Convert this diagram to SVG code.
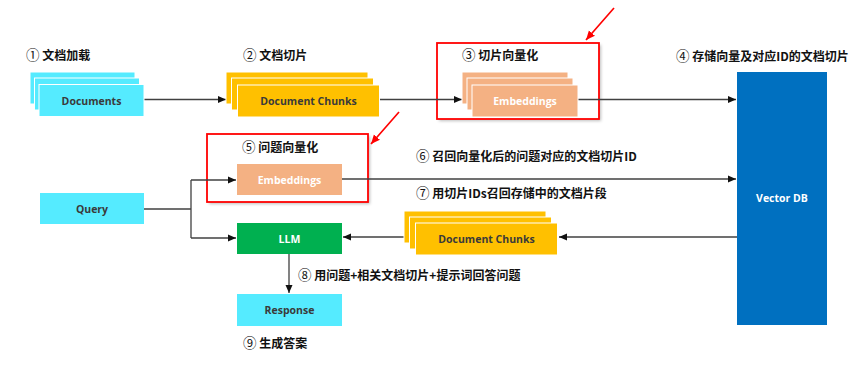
<svg xmlns="http://www.w3.org/2000/svg" width="865" height="366" viewBox="0 0 865 366">
<style>
  .lbl { font-family: "Noto Sans CJK SC", "Liberation Sans", sans-serif; font-weight: bold; font-size: 12px; fill: #111; }
  .num { font-size: 13.5px; font-weight: normal; }
  .bt { font-family: "Open Sans", "Noto Sans", "Liberation Sans", sans-serif; font-weight: bold; font-size: 10.5px; text-anchor: middle; dominant-baseline: central; }
  .dark { fill: #3a3a3a; }
  .light { fill: #ffffff; }
  .cyan { fill: #55EBFF; stroke: #ffffff; stroke-width: 1; }
  .orange { fill: #FFC000; stroke: #ffffff; stroke-width: 1; }
  .salmon { fill: #F4B183; stroke: #ffffff; stroke-width: 1; }
  .conn { fill: none; stroke: #404040; stroke-width: 1.3; }
  .red { fill: none; stroke: #FF0000; stroke-width: 1.6; }
  .redbox { fill: none; stroke: #FF0000; stroke-width: 1.8; }
</style>
<defs>
  <marker id="ah" markerUnits="userSpaceOnUse" markerWidth="9" markerHeight="8" refX="8" refY="4" orient="auto">
    <path d="M0,0.5 L8,4 L0,7.5 Z" fill="#111"/>
  </marker>
  <marker id="rah" markerUnits="userSpaceOnUse" markerWidth="10" markerHeight="10" refX="9" refY="5" orient="auto">
    <path d="M0,1 L9,5 L0,9 Z" fill="#FF0000"/>
  </marker>
  <filter id="sh" x="-5%" y="-5%" width="115%" height="120%">
    <feDropShadow dx="2" dy="2" stdDeviation="1.5" flood-color="#000" flood-opacity="0.25"/>
  </filter>
</defs>

<!-- red highlight boxes -->
<g id="highlight1">
  <rect x="437" y="43" width="162" height="76" fill="#fff" filter="url(#sh)"/>
  <rect class="redbox" x="437" y="43" width="162" height="76"/>
</g>
<g id="highlight2">
  <rect x="207" y="134" width="161" height="68" fill="#fff" filter="url(#sh)"/>
  <rect class="redbox" x="207" y="134" width="161" height="68"/>
</g>

<!-- connectors -->
<g id="connectors">
  <line class="conn" x1="144" y1="99.5" x2="226" y2="99.5" marker-end="url(#ah)"/>
  <line class="conn" x1="380" y1="99.5" x2="462" y2="99.5" marker-end="url(#ah)"/>
  <line class="conn" x1="578" y1="99.5" x2="736" y2="99.5" marker-end="url(#ah)"/>
  <polyline class="conn" points="144,209 191,209"/>
  <polyline class="conn" points="191,180 191,238"/>
  <line class="conn" x1="191" y1="180" x2="236" y2="180" marker-end="url(#ah)"/>
  <line class="conn" x1="191" y1="238" x2="236" y2="238" marker-end="url(#ah)"/>
  <line class="conn" x1="342" y1="179" x2="736" y2="179" marker-end="url(#ah)"/>
  <line class="conn" x1="737" y1="237" x2="559" y2="237" marker-end="url(#ah)"/>
  <line class="conn" x1="416" y1="237" x2="343" y2="237" marker-end="url(#ah)"/>
  <line class="conn" x1="289" y1="254" x2="289" y2="293" marker-end="url(#ah)"/>
  <line class="red" x1="614" y1="8" x2="586" y2="40" marker-end="url(#rah)"/>
  <line class="red" x1="399" y1="112" x2="371" y2="144" marker-end="url(#rah)"/>
</g>

<!-- nodes -->
<g id="documents">
  <rect class="cyan" x="30" y="72" width="105" height="32"/>
  <rect class="cyan" x="34.5" y="78" width="105" height="32"/>
  <rect class="cyan" x="39" y="84.5" width="105" height="32"/>
  <text class="bt dark" x="91.5" y="101">Documents</text>
</g>
<g id="chunks">
  <rect class="orange" x="226" y="72" width="142" height="32"/>
  <rect class="orange" x="231.5" y="78" width="142" height="32"/>
  <rect class="orange" x="237.5" y="85" width="142" height="32"/>
  <text class="bt dark" x="308.5" y="101">Document Chunks</text>
</g>
<g id="embeddings1">
  <rect class="salmon" x="462" y="72" width="106" height="32"/>
  <rect class="salmon" x="467" y="78" width="106" height="32"/>
  <rect class="salmon" x="472" y="85" width="106" height="32"/>
  <text class="bt light" x="525" y="101">Embeddings</text>
</g>
<g id="vectordb">
  <rect x="737" y="72" width="90" height="253" fill="#0070C0"/>
  <text class="bt light" x="782" y="198">Vector DB</text>
</g>
<g id="embeddings2">
  <rect x="237" y="164" width="105" height="31" fill="#F4B183"/>
  <text class="bt light" x="289.5" y="179.5">Embeddings</text>
</g>
<g id="query">
  <rect x="40" y="193" width="104" height="31" fill="#55EBFF"/>
  <text class="bt dark" x="92" y="208.5">Query</text>
</g>
<g id="llm">
  <rect x="237" y="223" width="105" height="31" fill="#00B050"/>
  <text class="bt light" x="289.5" y="238.5">LLM</text>
</g>
<g id="chunks2">
  <rect class="orange" x="404" y="211" width="142" height="32"/>
  <rect class="orange" x="409.5" y="217" width="142" height="32"/>
  <rect class="orange" x="415.5" y="223" width="142" height="32"/>
  <text class="bt dark" x="486.5" y="239">Document Chunks</text>
</g>
<g id="response">
  <rect x="237" y="294" width="105" height="32" fill="#55EBFF"/>
  <text class="bt dark" x="289.5" y="310">Response</text>
</g>

<!-- labels -->
<g id="labels">
  <text class="lbl" x="26" y="59.5"><tspan class="num">①</tspan>  文档加载</text>
  <text class="lbl" x="243" y="59.5"><tspan class="num">②</tspan> 文档切片</text>
  <text class="lbl" x="462" y="59.5"><tspan class="num">③</tspan> 切片向量化</text>
  <text class="lbl" x="676" y="60.5"><tspan class="num">④</tspan> 存储向量及对应ID的文档切片</text>
  <text class="lbl" x="242" y="151.5"><tspan class="num">⑤</tspan> 问题向量化</text>
  <text class="lbl" x="416" y="160.5"><tspan class="num">⑥</tspan> 召回向量化后的问题对应的文档切片ID</text>
  <text class="lbl" x="416" y="197.5"><tspan class="num">⑦</tspan> 用切片IDs召回存储中的文档片段</text>
  <text class="lbl" x="298" y="279.5"><tspan class="num">⑧</tspan> 用问题+相关文档切片+提示词回答问题</text>
  <text class="lbl" x="243" y="347.5"><tspan class="num">⑨</tspan> 生成答案</text>
</g>
</svg>
